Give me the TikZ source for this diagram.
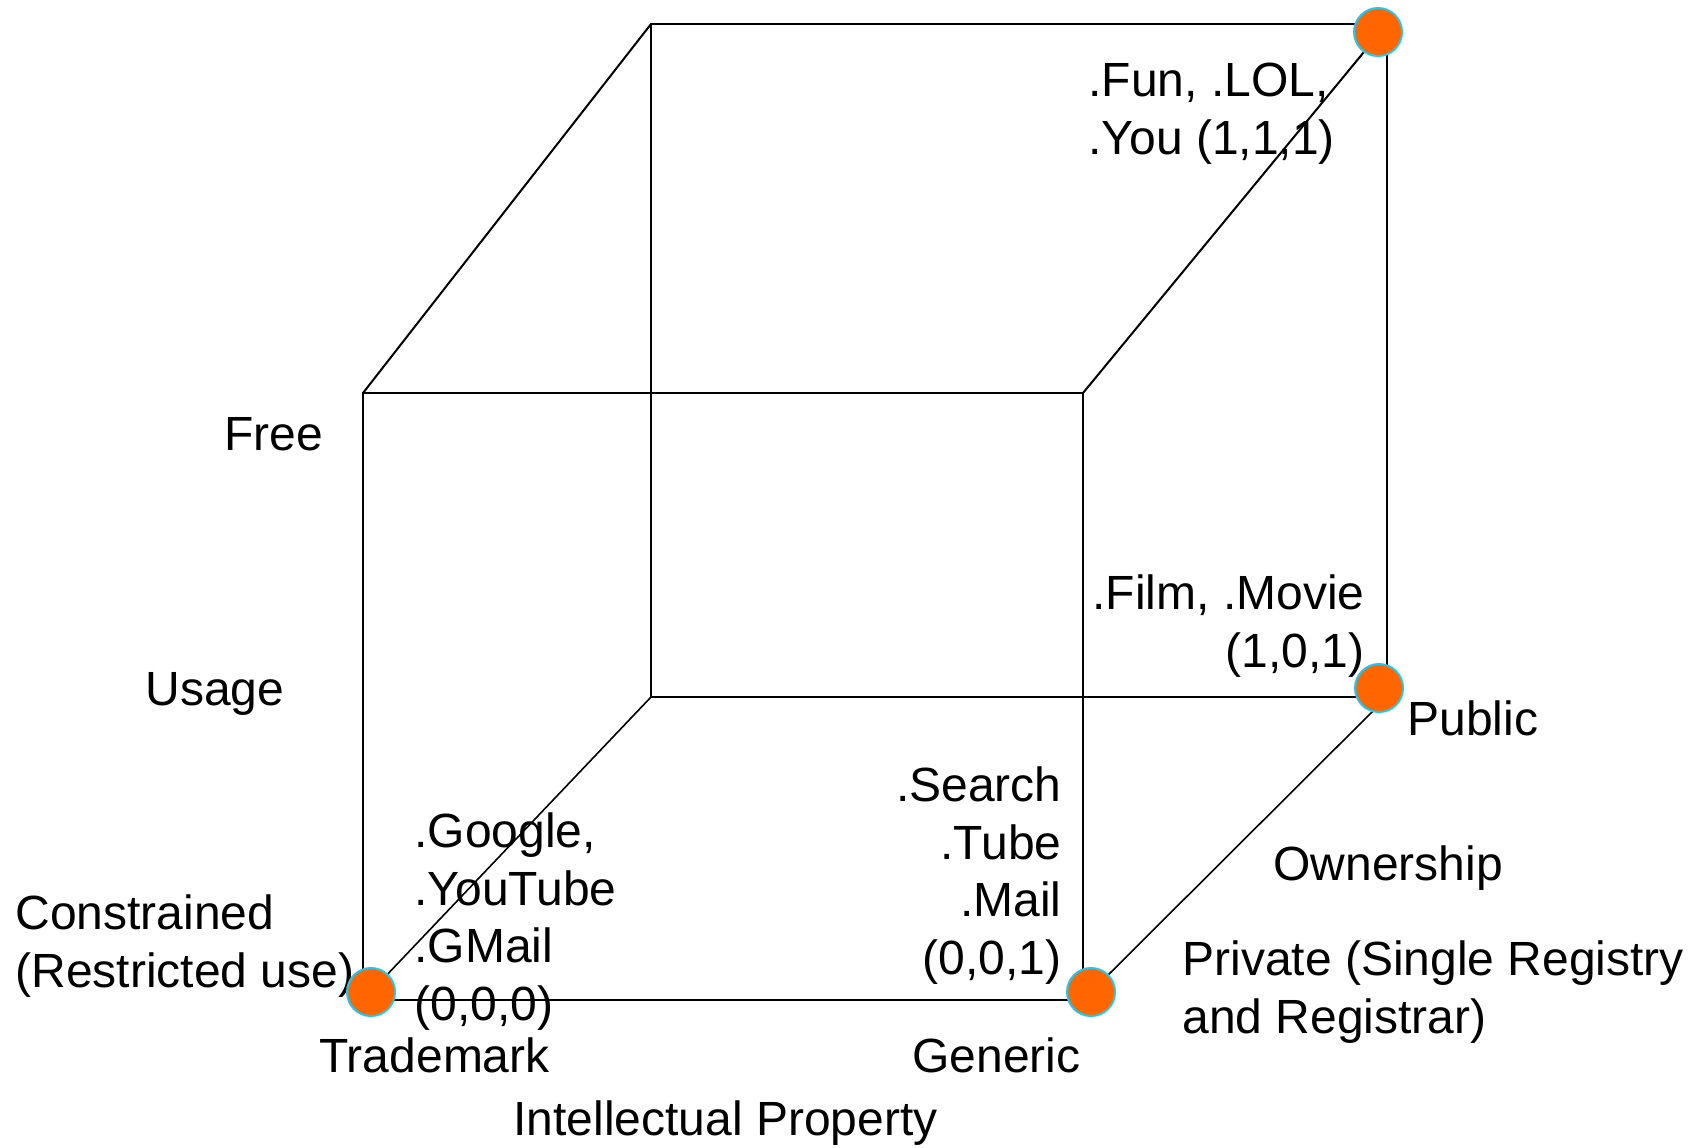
\documentclass[tikz,border=0pt]{standalone}
\usepackage{fontspec}
\setmainfont{Liberation Sans}
\definecolor{dotfill}{HTML}{FF6600}
\definecolor{dotrim}{HTML}{1EC8F0}

\begin{document}
\begin{tikzpicture}[
    x=0.5pt, y=-0.5pt,
    edge/.style={draw, line width=1pt},
    slant/.style={draw, line width=0.8pt},
    corner/.style={circle, draw=dotrim, fill=dotfill, line width=1pt, minimum size=24pt, inner sep=0pt},
    lbl/.style={inner sep=0pt, font=\fontsize{24}{28.75}\selectfont},
]
\useasboundingbox (0,0) rectangle (1696,1147);

\coordinate (ftl) at (363,393);
\coordinate (ftr) at (1083,393);
\coordinate (fbl) at (363,1000);
\coordinate (fbr) at (1083,1000);
\coordinate (btl) at (651,24);
\coordinate (btr) at (1387,24);
\coordinate (bbl) at (651,697);
\coordinate (bbr) at (1387,697);

\draw[edge] (btl) -- (btr) -- (bbr) -- (bbl) -- cycle;
\draw[edge] (ftl) -- (ftr) -- (fbr) -- (fbl) -- cycle;
\draw[edge] (ftl) -- (btl);
\draw[edge] (ftr) -- (btr);
\draw[slant] (fbl) -- (bbl);
\draw[slant] (fbr) -- (bbr);

\node[lbl, anchor=base west, align=left] (youlbl) at (1088,154) {.Fun, .LOL,\\.You (1,1,1)};
\node[lbl, anchor=base east, align=right] (filmlbl) at (1365,667) {.Film, .Movie\\(1,0,1)};
\node[lbl, anchor=base east, align=right] (searchlbl) at (1062,974) {.Search\\.Tube\\.Mail\\(0,0,1)};
\node[lbl, anchor=base west, align=left] (googlbl) at (414,1020) {.Google,\\.YouTube\\.GMail\\(0,0,0)};

\node[lbl, anchor=base west] (free) at (224,450) {Free};
\node[lbl, anchor=base west] (usage) at (145,705) {Usage};
\node[lbl, anchor=base west, align=left] (constr) at (15,987) {Constrained\\(Restricted use)};
\node[lbl, anchor=base west] (public) at (1407,735) {Public};
\node[lbl, anchor=base west] (owner) at (1273,880) {Ownership};
\node[lbl, anchor=base west, align=left] (private) at (1182,1033) {Private (Single Registry\\and Registrar)};
\node[lbl, anchor=base west] (trademark) at (319,1072) {Trademark};
\node[lbl, anchor=base west] (generic) at (912,1072) {Generic};
\node[lbl, anchor=base west] (intprop) at (513,1135) {Intellectual Property};

\node[corner] (dtm) at (371,992) {};
\node[corner] (dgen) at (1091,992) {};
\node[corner] (dpub) at (1379,688) {};
\node[corner] (dyou) at (1378,32) {};

\end{tikzpicture}
\end{document}
